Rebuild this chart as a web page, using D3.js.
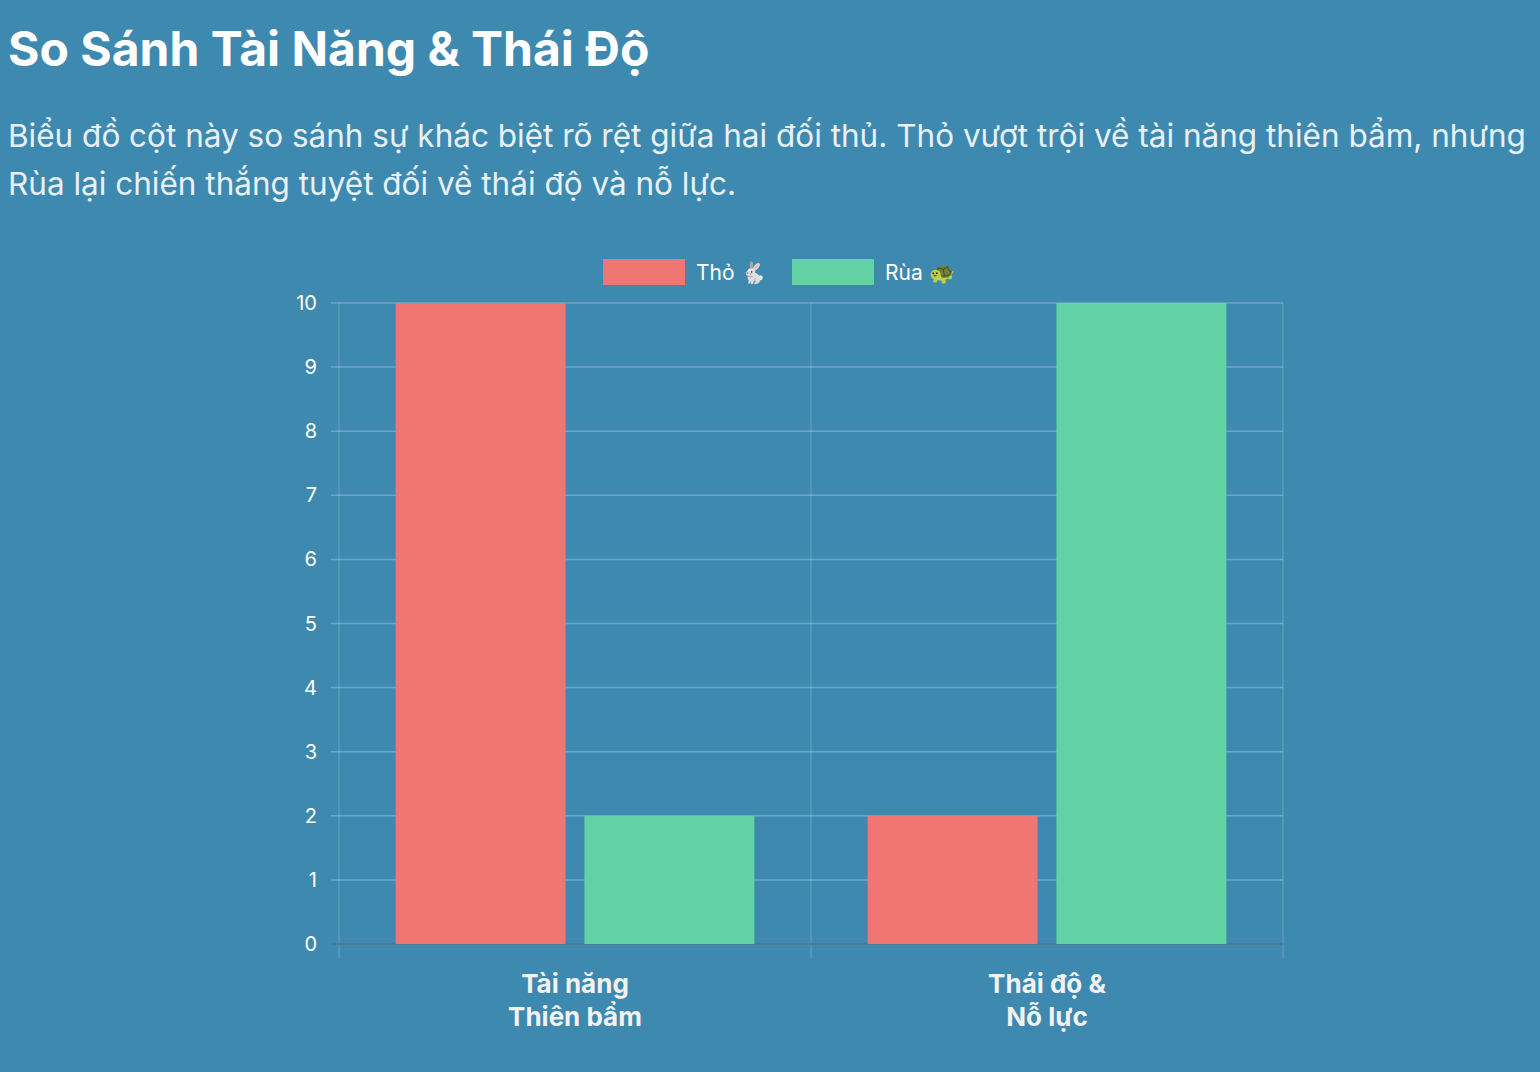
<!DOCTYPE html>
<html><head><meta charset="utf-8">
<script src="https://cdn.jsdelivr.net/npm/d3@7"></script>
<style>
html,body{margin:0;background:#3e89b0;overflow:hidden;width:1540px;height:1072px;font-family:Inter,"Noto Sans",sans-serif;color:#fff}
h1{position:absolute;left:8px;top:19px;margin:0;font-size:48px;font-weight:700;white-space:nowrap}
p{position:absolute;left:8px;top:112px;margin:0;font-size:31.5px;line-height:48px;color:#e8f1f6;white-space:nowrap}
svg{position:absolute;left:0;top:0}
</style></head><body>
<h1>So Sánh Tài Năng &amp; Thái Độ</h1>
<p>Biểu đồ cột này so sánh sự khác biệt rõ rệt giữa hai đối thủ. Thỏ vượt trội về tài năng thiên bẩm, nhưng<br>Rùa lại chiến thắng tuyệt đối về thái độ và nỗ lực.</p>
<svg id="canvas" width="1540" height="1072"></svg>
<script>
let categories = [["Tài năng", "Thiên bẩm"], ["Thái độ &", "Nỗ lực"]]
let seriesNames = ["Thỏ 🐇", "Rùa 🐢"]
let seriesColors = ["#ef7673", "#63d3a6"]
let thoValues = [10, 2]
let ruaValues = [2, 10]
let yTicks = [0,1,2,3,4,5,6,7,8,9,10]

let canvas = d3.select("#canvas")
let pLeft = 339, pRight = 1283, pTop = 303, pBottom = 944
let grid = "rgba(255,255,255,0.25)"

let x = d3.scaleBand().domain([0,1]).range([pLeft, pRight])
let inner = d3.scaleBand().domain([0,1]).range([0, x.bandwidth()*0.8])
let y = d3.scaleLinear().domain([0,10]).range([pBottom, pTop])

// horizontal grid
canvas.selectAll('.hg').data(yTicks).enter().append('line')
  .attr('x1', pLeft-8).attr('x2', pRight).attr('y1', d=>y(d)).attr('y2', d=>y(d))
  .attr('stroke', grid).attr('stroke-width', 1.5)
// vertical grid
canvas.selectAll('.vg').data([0,1,2]).enter().append('line')
  .attr('x1', d=>pLeft + d*x.bandwidth()).attr('x2', d=>pLeft + d*x.bandwidth())
  .attr('y1', pTop).attr('y2', pBottom+15)
  .attr('stroke', 'rgba(255,255,255,0.15)').attr('stroke-width', 1.5)
canvas.append('line').attr('x1', pLeft-8).attr('x2', pRight).attr('y1', pBottom).attr('y2', pBottom)
  .attr('stroke', 'rgba(80,110,140,0.8)').attr('stroke-width', 2)

canvas.selectAll('.yl').data(yTicks).enter().append('text')
  .attr('x', pLeft-22).attr('y', d=>y(d)+7).attr('text-anchor','end')
  .attr('fill','#fff').attr('font-size', 20).text(d=>d)

let series = [thoValues, ruaValues]
series.forEach((vals, s) =>{
  canvas.selectAll('.b'+s).data(vals).enter().append('rect')
    .attr('x', (d,i)=> x(i) + x.bandwidth()*0.1 + inner(s) + inner.bandwidth()*0.05)
    .attr('width', inner.bandwidth()*0.9)
    .attr('y', d=>y(d)).attr('height', d=>pBottom - y(d))
    .attr('fill', seriesColors[s])
})

categories.forEach((lines, i) =>{
  let t = canvas.append('text').attr('text-anchor','middle').attr('fill','#f2f2f2')
    .attr('font-size', 26).attr('font-weight', 700)
  lines.forEach((l, k) =>{
    t.append('tspan').attr('x', x(i)+x.bandwidth()/2).attr('y', 993 + k*33).text(l)
  })
})

// legend
let lx = [603, 792]
seriesNames.forEach((n, s) =>{
  canvas.append('rect').attr('x', lx[s]).attr('y', 259).attr('width', 82).attr('height', 26).attr('fill', seriesColors[s])
  canvas.append('text').attr('x', lx[s]+93).attr('y', 280).attr('fill','#fff').attr('font-size', 21).text(n)
})
</script>
</body></html>
